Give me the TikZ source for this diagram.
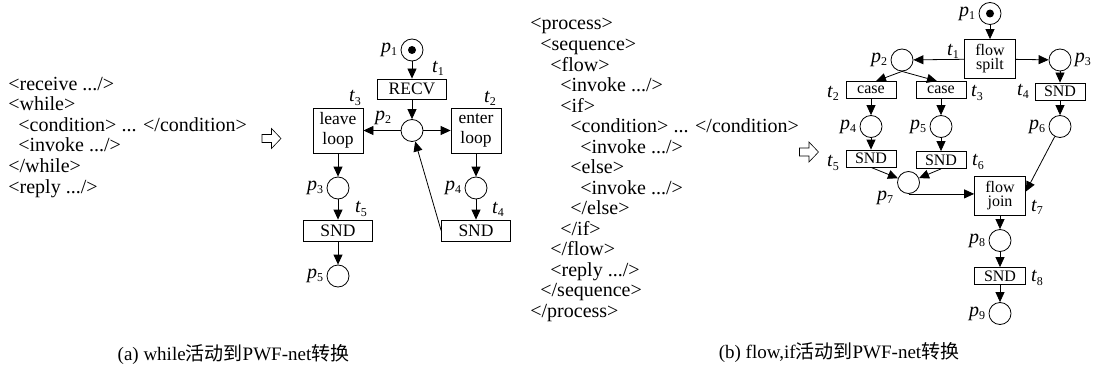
\documentclass[tikz,border=0pt]{standalone}
\usepackage{fontspec}
\setmainfont{Liberation Serif}
\newfontfamily\cjk{Noto Sans CJK SC}
\usetikzlibrary{arrows.meta,positioning}
\newcommand\idx[2]{\textit{#1}\raisebox{-0.35ex}{\fontsize{12}{12}\selectfont #2}}

\begin{document}
\begin{tikzpicture}[
    x=1pt, y=-1pt,
    line width=0.8pt,
    node distance=3pt,
    code/.style={anchor=base west, inner sep=0pt, font=\fontsize{20}{24}\selectfont},
    subcap/.style={inner sep=0pt, font=\fontsize{19}{20}\selectfont},
    place/.style={draw, circle, minimum size=22pt, inner sep=0pt},
    token/.style={fill, circle, minimum size=8pt, inner sep=0pt},
    transa/.style={draw, align=center, inner sep=0pt, minimum width=69pt, minimum height=20pt, font=\fontsize{17.5}{20}\selectfont},
    loopbox/.style={transa, minimum width=50pt, minimum height=45pt},
    transb/.style={draw, align=center, inner sep=0pt, minimum width=50pt, minimum height=17pt, font=\fontsize{16}{14}\selectfont},
    flowbox/.style={transb, minimum width=51pt, minimum height=39pt},
    lbl/.style={inner sep=0pt, font=\fontsize{20}{20}\selectfont},
    flow/.style={-{Triangle[length=10pt,width=9pt]}},
    convert/.pic={\draw[line width=0.6pt] (-9.5,-4) -- (0,-4) -- (0,-10) -- (9.5,0) -- (0,10) -- (0,4) -- (-9.5,4) -- cycle;}
]
\useasboundingbox (0,0) rectangle (1103,369);

\foreach \x/\txt [count=\i] in {8/{<receive .../>}, 8/{<while>}, 18/{<condition> ... </condition>},
    18/{<invoke .../>}, 8/{</while>}, 8/{<reply .../>}}
  \node[code] (xa\i) at (\x,{90+20.6*(\i-1)}) {\txt};

\pic at (271.5,138.5) {convert};

\node[place] (pa1) at (412,50) {};
\node[token] (ka1) at (pa1) {};
\node[transa] (ta1) at (412,89) {RECV};
\node[place] (pa2) at (412,130.5) {};
\node[loopbox] (ta3) at (338,130.5) {leave\\loop};
\node[loopbox] (ta2) at (476,130.5) {enter\\loop};
\node[place] (pa3) at (338,188) {};
\node[transa, minimum height=21pt] (ta5) at (338,230.5) {SND};
\node[place] (pa5) at (338,276) {};
\node[place] (pa4) at (476,188) {};
\node[transa, minimum height=21pt] (ta4) at (476,230.5) {SND};

\node[lbl, left=of pa1] (lpa1) {\idx p1};
\node[lbl] (lpa2) at (383,118) {\idx p2};
\node[lbl, left=of pa3] (lpa3) {\idx p3};
\node[lbl, left=of pa4] (lpa4) {\idx p4};
\node[lbl, left=of pa5] (lpa5) {\idx p5};
\node[lbl] (lta1) at (438,68) {\idx t1};
\node[lbl] (lta2) at (490,98) {\idx t2};
\node[lbl] (lta3) at (355,98) {\idx t3};
\node[lbl] (lta4) at (498,209) {\idx t4};
\node[lbl] (lta5) at (361,209) {\idx t5};

\draw[flow] (pa1) -- (ta1);
\draw[flow] (ta1) -- (pa2);
\draw[flow] (pa2) -- (ta3);
\draw[flow] (pa2) -- (ta2);
\draw[flow] (ta3) -- (pa3);
\draw[flow] (pa3) -- (ta5);
\draw[flow] (ta5) -- (pa5);
\draw[flow] (ta2) -- (pa4);
\draw[flow] (pa4) -- (ta4);
\draw[flow] (ta4.west) -- (pa2);

\foreach \x/\txt [count=\i] in {530/{<process>}, 540/{<sequence>}, 550/{<flow>}, 560/{<invoke .../>},
    560/{<if>}, 570/{<condition> ... </condition>}, 580/{<invoke .../>}, 570/{<else>},
    580/{<invoke .../>}, 570/{</else>}, 560/{</if>}, 550/{</flow>}, 550/{<reply .../>},
    540/{</sequence>}, 530/{</process>}}
  \node[code] (xb\i) at (\x,{30+20.5*(\i-1)}) {\txt};

\pic at (809,152) {convert};

\node[place] (pb1) at (990,13.5) {};
\node[token] (kb1) at (pb1) {};
\node[flowbox] (tb1) at (990,59) {flow\\spilt};
\node[place] (pb2) at (902,60) {};
\node[place] (pb3) at (1060,60) {};
\node[transb] (tb2) at (871,90) {case};
\node[transb] (tb3) at (941,90) {case};
\node[transb] (tb4) at (1060,91.5) {SND};
\node[place] (pb4) at (871,126.5) {};
\node[place] (pb5) at (941,126.5) {};
\node[place] (pb6) at (1060,126.5) {};
\node[transb] (tb5) at (871,158.5) {SND};
\node[transb] (tb6) at (941,160) {SND};
\node[place] (pb7) at (908.5,182.5) {};
\node[flowbox] (tb7) at (1000,195.5) {flow\\join};
\node[place] (pb8) at (1000,240.5) {};
\node[transb, minimum width=51pt] (tb8) at (1000,276) {SND};
\node[place] (pb9) at (1000,313.5) {};

\node[lbl, left=of pb1] (lpb1) {\idx p1};
\node[lbl, left=of pb2] (lpb2) {\idx p2};
\node[lbl, right=of pb3] (lpb3) {\idx p3};
\node[lbl, left=of pb4] (lpb4) {\idx p4};
\node[lbl, left=of pb5] (lpb5) {\idx p5};
\node[lbl, left=of pb6] (lpb6) {\idx p6};
\node[lbl] (lpb7) at (885,198) {\idx p7};
\node[lbl, left=of pb8] (lpb8) {\idx p8};
\node[lbl, left=of pb9] (lpb9) {\idx p9};
\node[lbl] (ltb1) at (953,51) {\idx t1};
\node[lbl] (ltb2) at (833,93) {\idx t2};
\node[lbl] (ltb3) at (977,93) {\idx t3};
\node[lbl] (ltb4) at (1023,91) {\idx t4};
\node[lbl] (ltb5) at (833,163) {\idx t5};
\node[lbl] (ltb6) at (978,162) {\idx t6};
\node[lbl] (ltb7) at (1037,207) {\idx t7};
\node[lbl] (ltb8) at (1037,278) {\idx t8};

\draw[flow] (pb1) -- (tb1);
\draw[flow] (tb1) -- (pb2);
\draw[flow] (tb1) -- (pb3);
\draw[flow] (pb2.south) -- ([xshift=5pt]tb2.north);
\draw[flow] (pb2.south) -- ([xshift=-4pt]tb3.north);
\draw[flow] (pb3) -- (tb4);
\draw[flow] (tb2) -- (pb4);
\draw[flow] (tb3) -- (pb5);
\draw[flow] (tb4) -- (pb6);
\draw[flow] (pb4) -- (tb5);
\draw[flow] (pb5) -- (tb6);
\draw[flow] (tb5.south) -- (pb7);
\draw[flow] (tb6.south) -- (pb7);
\draw[flow] (pb7.south) -- (pb7.south -| tb7.west);
\draw[flow] (pb6) -- ([yshift=4pt]tb7.east);
\draw[flow] (tb7) -- (pb8);
\draw[flow] (pb8) -- (tb8);
\draw[flow] (tb8) -- (pb9);

\node[subcap] (capa) at (233.5,355) {(a) while{\cjk 活动到}PWF-net{\cjk 转换}};
\node[subcap] (capb) at (839,353) {(b) flow,if{\cjk 活动到}PWF-net{\cjk 转换}};
\end{tikzpicture}
\end{document}
